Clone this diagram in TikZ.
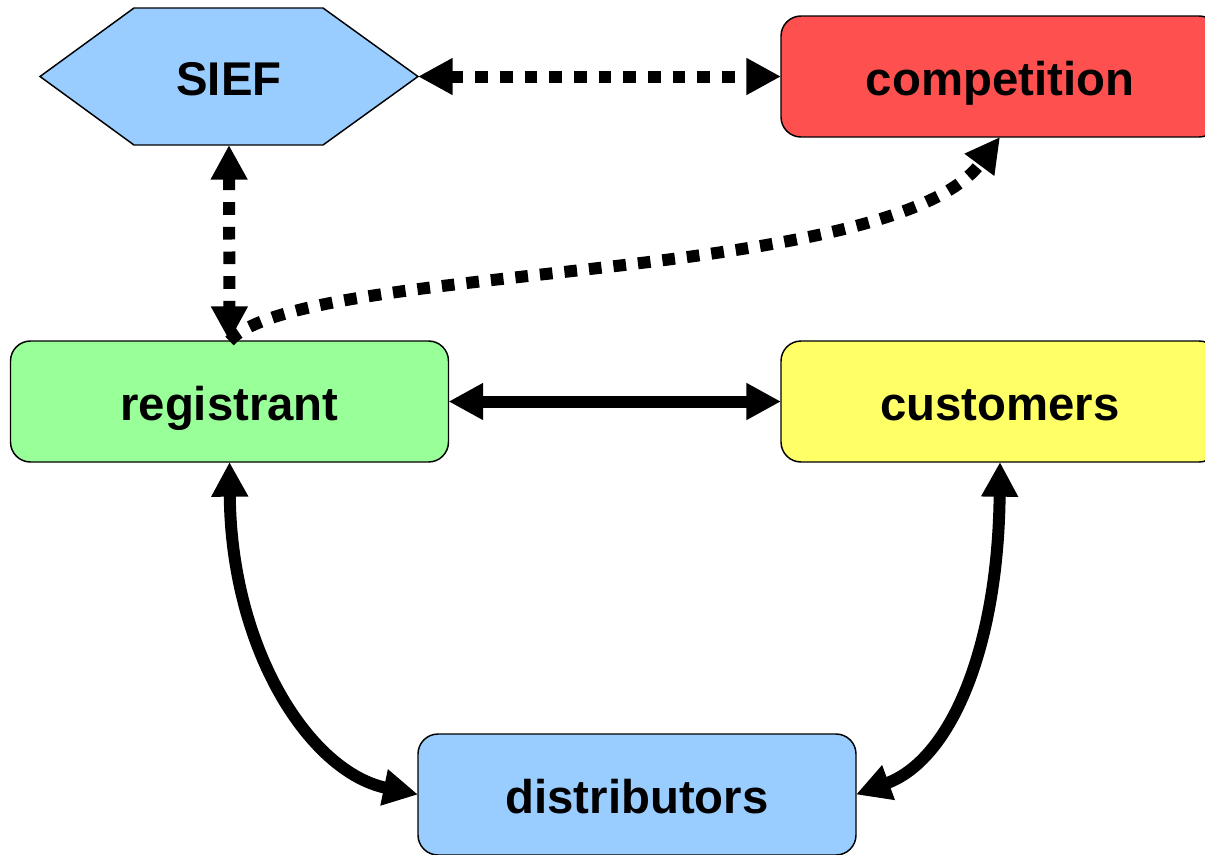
\documentclass[tikz,border=0pt]{standalone}
\usepackage{fontspec}
\setmainfont{Liberation Sans}
\usetikzlibrary{arrows.meta,calc}
\definecolor{siefblue}{HTML}{99CCFF}
\definecolor{compred}{HTML}{FF5050}
\definecolor{reggreen}{HTML}{99FF99}
\definecolor{custyellow}{HTML}{FFFF66}
\begin{document}
\begin{tikzpicture}[x=0.75pt,y=-0.75pt,
  lbl/.style={font=\fontsize{35.5}{40}\selectfont\bfseries, text height=29pt, text depth=0pt},
  box/.style={lbl, draw=black, line width=1.1pt, rounded corners=15pt,
    minimum width=328.5pt, minimum height=90.75pt, outer sep=0pt, inner sep=0pt},
  hexa/.style={draw=black, line width=1.1pt, fill=siefblue},
  conn/.style={line width=9pt, -{Triangle[length=26pt,width=26pt]}},
  both/.style={line width=9pt, {Triangle[length=26pt,width=26pt]}-{Triangle[length=26pt,width=26pt]}},
  dots/.style={dash pattern=on 9.5pt off 9pt}]
\useasboundingbox (0,0) rectangle (1205,854);
\clip (0,0) rectangle (1205,854);
% SIEF hexagon
\draw[hexa] (40,76.5) -- (134,8) -- (323,8) -- (418,76.5) -- (323,145) -- (134,145) -- cycle;
\node[lbl, minimum width=283.5pt, minimum height=102.75pt, inner sep=0pt, outer sep=0pt] (sief) at (229,76.5) {SIEF};
% boxes
\node[box, fill=compred] (competition) at (1000,76.5) {competition};
\node[box, fill=reggreen] (registrant) at (229.5,401.5) {registrant};
\node[box, fill=custyellow] (customers) at (1000,401.5) {customers};
\node[box, fill=siefblue] (distributors) at (637,794.5) {distributors};
% connectors
\draw[both, dots] (sief.east) -- (competition.west);
\draw[both, dots] (sief.south) -- (registrant.north);
\draw[conn, dots] (registrant.north) .. controls (300,262) and (890,285) .. (competition.south);
\draw[both] (registrant.east) -- (customers.west);
\draw[both] (registrant.south) .. controls (231,650) and (310,772) .. (distributors.west);
\draw[both] (customers.south) .. controls (998,650) and (950,760) .. (distributors.east);
\end{tikzpicture}
\end{document}
